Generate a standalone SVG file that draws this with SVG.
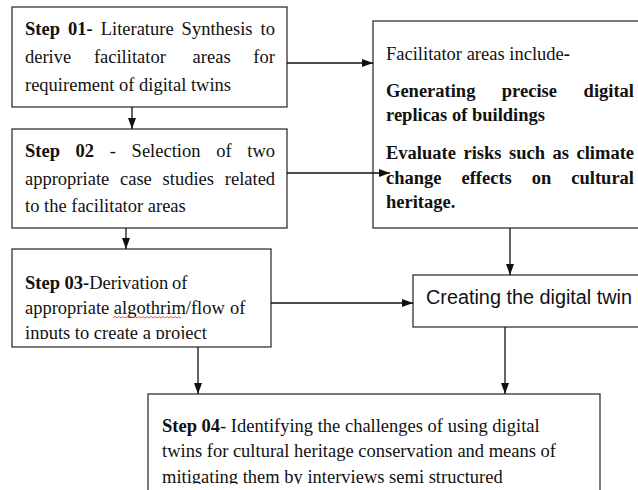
<svg xmlns="http://www.w3.org/2000/svg" width="638" height="490" viewBox="0 0 638 490">
<style>
.box{fill:#fff;stroke:#333;stroke-width:1.3}
.t{font-family:"Liberation Serif","Times New Roman",serif;font-size:18.5px;fill:#111}
.b{font-weight:bold}
.s{font-family:"Liberation Sans",Arial,sans-serif;font-size:20px;fill:#111}
.c{stroke:#111;stroke-width:1.3;fill:none;marker-end:url(#ah)}
</style>
<defs>
<marker id="ah" markerUnits="userSpaceOnUse" markerWidth="11" markerHeight="8" refX="11" refY="4" orient="auto">
<path d="M0,0 L11,4 L0,8 Z" fill="#111"/>
</marker>
<clipPath id="clip3"><rect x="12" y="249" width="259" height="90"/></clipPath>
<clipPath id="clip4"><rect x="148" y="394" width="452" height="90"/></clipPath>
</defs>
<rect width="638" height="490" fill="#fff"/>
<g id="step01">
<rect class="box" x="12" y="7" width="275" height="100"/>
<text class="t"><tspan class="b" x="25" y="35">Step</tspan><tspan class="b" x="68" y="35">01-</tspan><tspan x="100.7" y="35">Literature</tspan><tspan x="181.6" y="35">Synthesis</tspan><tspan x="260.5" y="35">to</tspan></text>
<text class="t"><tspan x="25" y="63">derive</tspan><tspan x="93.9" y="63">facilitator</tspan><tspan x="192.6" y="63">areas</tspan><tspan x="253.3" y="63">for</tspan></text>
<text class="t" x="25" y="91">requirement of digital twins</text>
</g>
<g id="step02">
<rect class="box" x="12" y="129" width="275" height="99"/>
<text class="t"><tspan class="b" x="25" y="157">Step</tspan><tspan class="b" x="75.6" y="157">02</tspan><tspan x="109.8" y="157">-</tspan><tspan x="131.6" y="157">Selection</tspan><tspan x="216.2" y="157">of</tspan><tspan x="247.3" y="157">two</tspan></text>
<text class="t"><tspan x="25" y="185">appropriate</tspan><tspan x="120" y="185">case</tspan><tspan x="162.6" y="185">studies</tspan><tspan x="224.8" y="185">related</tspan></text>
<text class="t" x="25" y="212">to the facilitator areas</text>
</g>
<g id="step03">
<rect class="box" x="12" y="249" width="259" height="98"/>
<g clip-path="url(#clip3)">
<text class="t"><tspan class="b" x="25" y="289">Step 03-</tspan><tspan>Derivation</tspan><tspan x="172" y="289">of</tspan></text>
<text class="t"><tspan x="25" y="314">appropriate algothrim/flow</tspan><tspan x="230" y="314">of</tspan></text>
<text class="t" x="25" y="339">inputs to create a project</text>
</g>
<path d="M113,318 l2,-1.5 l2,1.5 l2,-1.5 l2,1.5 l2,-1.5 l2,1.5 l2,-1.5 l2,1.5 l2,-1.5 l2,1.5 l2,-1.5 l2,1.5 l2,-1.5 l2,1.5 l2,-1.5 l2,1.5 l2,-1.5 l2,1.5 l2,-1.5 l2,1.5 l2,-1.5 l2,1.5 l2,-1.5 l2,1.5 l2,-1.5 l2,1.5 l2,-1.5 l2,1.5 l2,-1.5 l2,1.5 l2,-1.5 l2,1.5 l2,-1.5 l2,1.5" fill="none" stroke="#e03030" stroke-width="0.8"/>
</g>
<g id="facilitator">
<rect class="box" x="373" y="21" width="280" height="207"/>
<text class="t" x="386" y="60">Facilitator areas include<tspan class="b">-</tspan></text>
<text class="t b"><tspan x="386" y="97">Generating</tspan><tspan x="501.8" y="97">precise</tspan><tspan x="583.6" y="97">digital</tspan></text>
<text class="t b" x="386" y="121">replicas of buildings</text>
<text class="t b"><tspan x="386" y="159">Evaluate</tspan><tspan x="463.5" y="159">risks</tspan><tspan x="509" y="159">such</tspan><tspan x="552.6" y="159">as</tspan><tspan x="576.5" y="159">climate</tspan></text>
<text class="t b"><tspan x="386" y="184">change</tspan><tspan x="461.5" y="184">effects</tspan><tspan x="531.8" y="184">on</tspan><tspan x="571.3" y="184">cultural</tspan></text>
<text class="t b" x="386" y="208">heritage.</text>
</g>
<g id="creating">
<rect class="box" x="413" y="275" width="240" height="52"/>
<text class="s" x="426" y="304" textLength="206" lengthAdjust="spacingAndGlyphs">Creating the digital twin</text>
</g>
<g id="step04">
<rect class="box" x="148" y="394" width="452" height="110"/>
<g clip-path="url(#clip4)">
<text class="t" x="162" y="432"><tspan class="b">Step 04</tspan>- Identifying the challenges of using digital</text>
<text class="t" x="162" y="457">twins for cultural heritage conservation and means of</text>
<text class="t" x="162" y="483">mitigating them by interviews semi structured</text>
</g>
</g>
<g id="connectors">
<line class="c" x1="132" y1="107" x2="132" y2="129"/>
<line class="c" x1="126" y1="228" x2="126" y2="249"/>
<line class="c" x1="287" y1="63" x2="373" y2="63"/>
<line class="c" x1="287" y1="173" x2="390" y2="173"/>
<line class="c" x1="510" y1="228" x2="510" y2="275"/>
<line class="c" x1="271" y1="303" x2="413" y2="303"/>
<line class="c" x1="198" y1="347" x2="198" y2="394"/>
<line class="c" x1="505" y1="327" x2="505" y2="394"/>
</g>
</svg>
